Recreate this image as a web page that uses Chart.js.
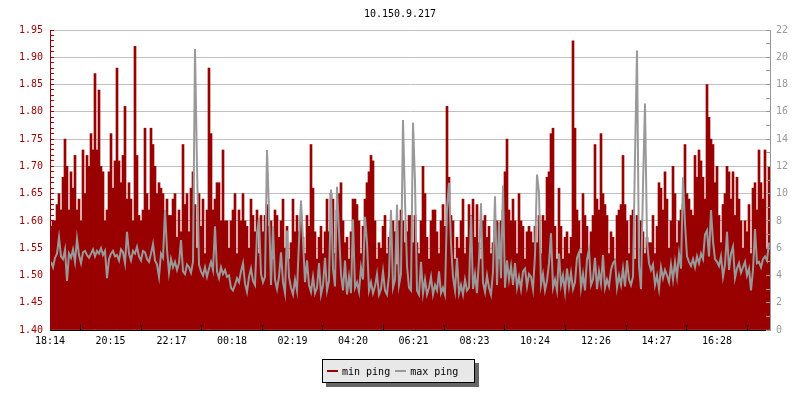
<!DOCTYPE html>
<html>
<head>
<meta charset="utf-8">
<title>10.150.9.217</title>
<script src="https://cdn.jsdelivr.net/npm/chart.js@4.4.1/dist/chart.umd.min.js"></script>
<style>
  body { margin: 0; background: #fff; }
  #wrap { position: relative; width: 800px; height: 400px; }
  #legend {
    position: absolute; left: 322px; top: 359px; width: 151px; height: 22px;
    background: #e8e8e8; border: 1px solid #000; box-shadow: 4px 4px 0 #666;
    font: 10px "DejaVu Sans Mono", monospace; color: #000;
    display: flex; align-items: center;
  }
  .sw { display: inline-block; width: 11px; height: 2px; }
</style>
</head>
<body>
<div id="wrap">
  <canvas id="pingChart" width="800" height="400"></canvas>
  <div id="legend">
    <span class="sw" style="background:#990000;margin-left:4px"></span><span style="margin-left:4px">min ping</span>
    <span class="sw" style="background:#999999;margin-left:5px"></span><span style="margin-left:4px">max ping</span>
  </div>
</div>
<script>
// Time axis: minutes after 18:14, one sample every 4 minutes
const tickMinutes = [0, 121, 243, 364, 485, 606, 727, 849, 970, 1092, 1213, 1334];
const tickLabels = ['18:14', '20:15', '22:17', '00:18', '02:19', '04:20', '06:21', '08:23', '10:24', '12:26', '14:27', '16:28'];

// min ping (left axis, ms)
const minPing = [
  1.59,1.60,1.60,1.63,1.65,1.62,1.68,1.75,1.70,1.62, 1.69,1.66,1.72,1.62,1.64,1.60,1.73,1.65,1.72,1.70,
  1.76,1.73,1.87,1.73,1.84,1.70,1.69,1.60,1.62,1.69, 1.76,1.66,1.71,1.88,1.71,1.67,1.72,1.81,1.64,1.67,
  1.64,1.60,1.92,1.72,1.61,1.60,1.62,1.77,1.65,1.62, 1.77,1.74,1.70,1.65,1.67,1.66,1.65,1.61,1.64,1.61,

  1.61,1.64,1.65,1.57,1.62,1.58,1.74,1.63,1.65,1.58, 1.66,1.69,1.63,1.55,1.65,1.59,1.64,1.54,1.62,1.88,
  1.76,1.62,1.64,1.67,1.67,1.60,1.73,1.60,1.60,1.55, 1.60,1.62,1.65,1.54,1.62,1.60,1.65,1.60,1.59,1.55,
  1.64,1.61,1.58,1.62,1.54,1.61,1.58,1.61,1.63,1.59, 1.60,1.53,1.62,1.61,1.57,1.60,1.64,1.55,1.59,1.53,

  1.56,1.64,1.58,1.61,1.58,1.60,1.57,1.54,1.61,1.59, 1.74,1.66,1.58,1.53,1.57,1.59,1.54,1.58,1.64,1.58,
  1.65,1.64,1.54,1.62,1.65,1.67,1.60,1.56,1.57,1.53, 1.58,1.64,1.64,1.63,1.60,1.54,1.59,1.64,1.67,1.69,
  1.72,1.71,1.60,1.53,1.56,1.55,1.59,1.61,1.54,1.57, 1.58,1.60,1.58,1.52,1.60,1.62,1.60,1.56,1.58,1.61,

  1.61,1.56,1.61,1.56,1.54,1.60,1.70,1.65,1.57,1.53, 1.60,1.62,1.62,1.58,1.54,1.60,1.63,1.59,1.81,1.68,
  1.61,1.60,1.53,1.57,1.55,1.60,1.64,1.54,1.57,1.63, 1.61,1.64,1.57,1.63,1.56,1.53,1.60,1.61,1.57,1.59,
  1.54,1.56,1.60,1.60,1.53,1.60,1.62,1.69,1.75,1.62, 1.60,1.64,1.60,1.54,1.65,1.60,1.59,1.53,1.58,1.59,

  1.58,1.56,1.59,1.56,1.61,1.54,1.61,1.60,1.68,1.69, 1.76,1.77,1.59,1.53,1.66,1.59,1.53,1.57,1.58,1.54,
  1.57,1.93,1.77,1.62,1.60,1.54,1.65,1.61,1.59,1.53, 1.58,1.61,1.74,1.64,1.62,1.76,1.65,1.63,1.61,1.54,
  1.58,1.57,1.53,1.61,1.62,1.63,1.72,1.63,1.60,1.54, 1.61,1.62,1.53,1.61,1.55,1.60,1.58,1.54,1.57,1.56,

  1.56,1.61,1.54,1.59,1.67,1.66,1.62,1.69,1.64,1.55, 1.60,1.70,1.65,1.56,1.60,1.62,1.63,1.74,1.65,1.64,
  1.62,1.61,1.72,1.68,1.73,1.71,1.68,1.64,1.85,1.79, 1.75,1.74,1.67,1.70,1.61,1.56,1.63,1.65,1.70,1.69,
  1.64,1.69,1.61,1.68,1.64,1.60,1.55,1.60,1.58,1.63, 1.54,1.66,1.67,1.62,1.73,1.67,1.64,1.73,1.55,1.70
];

// max ping (right axis, ms)
const maxPing = [
  5.0,4.6,5.3,5.6,6.8,5.4,5.2,5.9,3.6,5.6, 5.3,5.9,5.0,6.7,5.5,4.9,5.7,5.8,5.5,5.3,
  5.6,5.9,5.4,5.8,5.6,6.0,5.5,5.8,3.8,5.2, 5.6,5.8,5.4,5.5,5.1,5.9,5.7,4.9,7.2,5.6,
  5.1,5.8,5.6,6.1,5.4,5.1,5.8,5.7,5.2,5.0, 5.6,6.3,5.1,4.8,3.9,5.6,5.3,8.8,5.9,4.2,

  5.2,4.6,5.0,4.4,4.9,6.6,4.3,4.1,4.8,4.6, 4.2,5.0,20.6,12.0,4.8,4.3,4.0,4.6,3.9,4.5,
  5.0,4.4,7.6,4.3,3.8,4.6,4.1,4.4,3.9,4.0, 3.1,2.9,3.3,3.8,3.5,4.3,4.9,3.4,2.8,3.9,
  4.5,3.6,3.3,7.1,8.2,4.1,3.5,3.9,13.2,8.8, 3.3,7.6,3.7,3.0,3.9,5.7,3.5,2.7,7.3,3.9,

  3.1,2.6,3.7,2.9,6.5,9.5,6.6,3.5,5.1,3.3, 2.8,3.9,2.7,3.1,4.9,2.6,3.3,5.3,2.9,3.6,
  10.3,4.5,3.2,10.5,7.2,4.1,2.9,5.1,2.6,3.9, 2.7,8.1,3.1,3.5,2.8,4.6,3.7,8.3,6.4,2.9,
  3.5,2.7,3.2,4.1,2.6,3.0,4.3,2.9,2.6,4.0, 8.8,3.1,3.7,9.2,3.3,4.1,15.4,9.4,4.7,3.1,

  2.9,15.2,10.9,2.9,2.6,5.0,2.7,3.7,2.6,3.1, 3.9,2.6,3.3,2.9,4.3,2.7,3.1,2.6,8.9,10.8,
  6.3,3.9,2.9,5.3,2.7,3.3,2.6,3.7,2.9,3.1, 8.4,3.0,4.1,2.7,5.2,9.3,3.5,2.8,4.0,3.1,
  2.6,4.3,9.8,3.3,7.9,3.8,10.6,3.1,5.1,3.7, 4.7,3.3,4.9,3.1,3.9,3.0,4.3,4.5,3.2,4.1,

  3.9,3.0,5.5,11.4,10.1,3.3,4.1,2.9,3.6,4.9, 7.1,3.1,3.7,2.9,5.6,3.3,4.0,2.8,4.5,3.2,
  4.2,3.0,3.5,5.3,5.7,3.1,4.1,2.9,5.2,5.9, 3.3,3.7,5.3,3.0,4.3,3.4,5.5,3.1,3.7,3.2,
  4.4,4.9,5.1,3.1,4.0,3.3,4.5,3.2,5.1,3.7, 3.3,3.9,12.7,20.5,4.7,3.0,10.6,16.6,6.6,4.9,

  4.4,4.8,3.3,4.0,3.0,4.6,3.8,4.4,4.0,3.5, 4.8,3.7,5.0,3.9,5.6,4.5,11.2,7.8,5.4,5.0,
  4.7,5.2,4.6,5.4,4.9,5.6,5.2,7.0,7.3,5.4, 8.8,6.5,5.2,5.0,4.7,5.4,3.9,4.8,7.2,4.4,
  5.6,6.1,3.8,4.5,4.9,4.2,4.6,5.0,4.0,4.5, 2.9,4.4,7.4,4.9,5.0,4.6,5.2,5.4,5.1,6.4
];

const sampleMinutes = 4;
const monoFamily = '"DejaVu Sans Mono", monospace';

Chart.defaults.font.family = monoFamily;
Chart.defaults.font.size = 10;

const isMajor = v => Math.round(v * 100) % 5 === 0;

new Chart(document.getElementById('pingChart'), {
  data: {
    datasets: [
      {
        type: 'line',
        label: 'max ping',
        data: maxPing.map((v, i) => ({ x: i * sampleMinutes + sampleMinutes / 2, y: v })),
        yAxisID: 'y2',
        borderColor: '#999999',
        borderWidth: 2,
        pointRadius: 0,
        tension: 0,
        order: 0
      },
      {
        type: 'bar',
        label: 'min ping',
        data: minPing.map((v, i) => ({ x: i * sampleMinutes + sampleMinutes / 2, y: v })),
        yAxisID: 'y',
        backgroundColor: '#990000',
        borderWidth: 0,
        barPercentage: 1,
        categoryPercentage: 1,
        base: 1.40,
        order: 1
      }
    ]
  },
  options: {
    responsive: false,
    animation: false,
    devicePixelRatio: 1,
    events: [],
    layout: { padding: 0 },
    plugins: {
      legend: { display: false },
      tooltip: { enabled: false },
      title: {
        display: true,
        text: '10.150.9.217',
        color: '#000',
        font: { size: 10, weight: 'normal' },
        padding: { top: 8, bottom: 10 }
      }
    },
    scales: {
      x: {
        type: 'linear',
        min: 0,
        max: 1440,
        offset: false,
        grid: { drawOnChartArea: false, tickColor: '#000', tickLength: -5, z: 1 },
        border: { color: '#000', z: 1 },
        ticks: {
          autoSkip: false,
          maxRotation: 0,
          padding: 10,
          color: '#000',
          callback: (v, i) => tickLabels[i]
        },
        afterBuildTicks: s => { s.ticks = tickMinutes.map(v => ({ value: v })); },
        afterFit: s => { s.height = 70; }
      },
      y: {
        position: 'left',
        min: 1.40,
        max: 1.95,
        grid: {
          color: ctx => isMajor(ctx.tick.value) ? '#c0c0c0' : 'rgba(0,0,0,0)',
          tickColor: '#990000',
          tickLength: -4
        },
        border: { color: '#990000', z: 1 },
        ticks: {
          stepSize: 0.01,
          autoSkip: false,
          padding: 11,
          color: '#990000',
          callback: v => isMajor(v) ? v.toFixed(2) : ''
        },
        afterFit: s => { s.width = 50; }
      },
      y2: {
        position: 'right',
        min: 0,
        max: 22,
        grid: { drawOnChartArea: false, tickColor: '#999999', tickLength: -4, z: 1 },
        border: { color: '#999999', z: 1 },
        ticks: {
          stepSize: 1,
          autoSkip: false,
          padding: 10,
          color: '#999999',
          callback: v => v % 2 === 0 ? String(v) : ''
        },
        afterFit: s => { s.width = 30; }
      }
    }
  }
});
</script>
</body>
</html>
